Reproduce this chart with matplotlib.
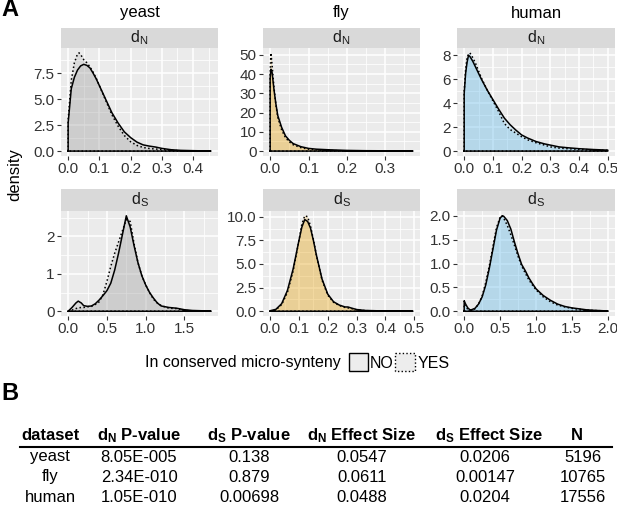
import matplotlib
matplotlib.use("Agg")
import matplotlib.pyplot as plt
from matplotlib.ticker import AutoMinorLocator, FixedLocator
from matplotlib.patches import Rectangle

plt.rcParams['font.family'] = ['Liberation Sans', 'DejaVu Sans']
plt.rcParams['mathtext.default'] = 'regular'

# ---- panel A data: density curves ----
species = ['yeast', 'fly', 'human']
fills = ['#999999', '#E69F00', '#56B4E9']

yeast_dn_x = [0, .01, .02, .03, .035, .04, .05, .06, .07, .08, .09, .10, .12, .14, .16, .18,
              .20, .22, .24, .26, .28, .30, .33, .36, .40, .457]
yeast_dn_no = [2.7, 6.0, 7.1, 7.8, 8.0, 8.2, 8.35, 8.25, 8.0, 7.5, 6.95, 6.3, 5.0, 3.7, 2.7, 1.85,
               1.3, 0.87, 0.6, 0.48, 0.39, 0.26, 0.13, 0.07, 0.04, 0.01]
yeast_dn_yes = [3.0, 6.8, 8.5, 9.35, 9.45, 9.3, 8.8, 8.5, 8.1, 7.6, 7.0, 6.3, 4.9, 3.5, 2.4, 1.5,
                0.9, 0.55, 0.35, 0.25, 0.2, 0.15, 0.08, 0.03, 0.01, 0.0]

fly_dn_x = [0, .002, .005, .01, .015, .02, .03, .04, .05, .06, .08, .10, .12, .15, .20, .25, .30, .372]
fly_dn_no = [38, 42.5, 41, 32, 24.5, 18.4, 12.3, 7.9, 5.6, 3.9, 2.3, 1.4, 1.0, 0.7, 0.35, 0.2, 0.15, 0.05]
fly_dn_yes = [40, 51, 45, 33, 24, 17.5, 11, 7, 4.8, 3.3, 1.8, 1.0, 0.6, 0.3, 0.1, 0.03, 0.01, 0.0]

human_dn_x = [0, .005, .01, .015, .02, .03, .04, .05, .06, .08, .10, .12, .14, .16, .18, .20,
              .22, .25, .28, .30, .33, .36, .40, .45, .50]
human_dn_no = [4.8, 6.5, 7.4, 8.0, 7.9, 7.5, 7.0, 6.5, 6.0, 5.1, 4.3, 3.5, 2.75, 2.2, 1.75, 1.35,
               1.1, 0.8, 0.6, 0.5, 0.35, 0.28, 0.2, 0.13, 0.08]
human_dn_yes = [5.0, 6.8, 7.8, 8.1, 8.2, 7.8, 7.3, 6.7, 6.1, 5.1, 4.2, 3.3, 2.3, 1.8, 1.5, 1.2,
                0.95, 0.7, 0.5, 0.35, 0.25, 0.2, 0.15, 0.1, 0.06]

yeast_ds_x = [0, .05, .1, .13, .17, .2, .25, .3, .35, .4, .45, .5, .55, .6, .65, .7, .75, .8, .85,
              .9, .95, 1.0, 1.05, 1.1, 1.15, 1.2, 1.3, 1.4, 1.5, 1.6, 1.84]
yeast_ds_no = [0.0, 0.1, 0.22, 0.27, 0.22, 0.15, 0.13, 0.14, 0.2, 0.3, 0.42, 0.55, 0.75, 1.1, 1.55,
               2.05, 2.55, 2.25, 1.75, 1.3, 0.95, 0.7, 0.5, 0.35, 0.22, 0.14, 0.1, 0.08, 0.04, 0.02, 0.005]
yeast_ds_yes = [0.0, 0.03, 0.07, 0.09, 0.1, 0.1, 0.12, 0.13, 0.18, 0.25, 0.45, 0.8, 1.2, 1.55, 1.85,
                2.15, 2.45, 2.4, 1.8, 1.3, 0.95, 0.7, 0.5, 0.32, 0.22, 0.15, 0.08, 0.07, 0.02, 0.01, 0.0]

fly_ds_x = [0, .02, .04, .06, .08, .10, .11, .12, .13, .14, .15, .16, .18, .20, .22, .24, .26,
            .27, .28, .30, .33, .38, .45, .495]
fly_ds_no = [0.05, 0.2, 0.8, 2.2, 4.5, 7.5, 8.9, 9.7, 9.5, 8.8, 7.5, 6.0, 3.4, 1.8, 1.0, 0.65, 0.45,
             0.45, 0.35, 0.18, 0.08, 0.04, 0.02, 0.01]
fly_ds_yes = [0.02, 0.15, 0.7, 2.0, 4.3, 7.5, 9.2, 10.1, 10.0, 9.0, 7.6, 6.0, 3.3, 1.7, 0.95, 0.6,
              0.4, 0.35, 0.3, 0.15, 0.06, 0.02, 0.0, 0.0]

human_ds_x = [0, .02, .05, .08, .1, .15, .2, .25, .3, .35, .4, .45, .5, .53, .55, .6, .65, .7, .75,
              .8, .85, .9, .95, 1.0, 1.1, 1.2, 1.3, 1.4, 1.5, 1.6, 1.7, 1.8, 2.0]
human_ds_no = [0.22, 0.15, 0.07, 0.03, 0.03, 0.06, 0.15, 0.3, 0.55, 0.9, 1.3, 1.7, 1.95, 2.0, 1.99,
               1.9, 1.72, 1.45, 1.2, 0.98, 0.85, 0.7, 0.58, 0.47, 0.33, 0.23, 0.15, 0.1, 0.07,
               0.05, 0.03, 0.02, 0.005]
human_ds_yes = [0.15, 0.1, 0.04, 0.02, 0.02, 0.05, 0.15, 0.32, 0.6, 0.95, 1.35, 1.75, 1.97, 2.0,
                1.95, 1.8, 1.6, 1.38, 1.15, 0.95, 0.8, 0.66, 0.55, 0.45, 0.3, 0.2, 0.13, 0.09,
                0.06, 0.04, 0.025, 0.015, 0.005]

xticks = [[0, .1, .2, .3, .4], [0, .1, .2, .3], [0, .1, .2, .3, .4, .5],
          [0, .5, 1, 1.5], [0, .1, .2, .3, .4, .5], [0, .5, 1, 1.5, 2]]
yticks = [[0, 2.5, 5, 7.5], [0, 10, 20, 30, 40, 50], [0, 2, 4, 6, 8],
          [0, 1, 2], [0, 2.5, 5, 7.5, 10], [0, .5, 1, 1.5, 2]]
xfmt = ['%.1f'] * 6
yfmt = ['%.1f', '%d', '%d', '%d', '%.1f', '%.1f']

curves = [(yeast_dn_x, yeast_dn_no, yeast_dn_yes), (fly_dn_x, fly_dn_no, fly_dn_yes),
          (human_dn_x, human_dn_no, human_dn_yes), (yeast_ds_x, yeast_ds_no, yeast_ds_yes),
          (fly_ds_x, fly_ds_no, fly_ds_yes), (human_ds_x, human_ds_no, human_ds_yes)]
strips = ['d$_N$', 'd$_S$']

# ---- panel B data ----
datasets = ['yeast', 'fly', 'human']
dn_pvalue = ['8.05E-005', '2.34E-010', '1.05E-010']
ds_pvalue = ['0.138', '0.879', '0.00698']
dn_effect = ['0.0547', '0.0611', '0.0488']
ds_effect = ['0.0206', '0.00147', '0.0204']
n_genes = ['5196', '10765', '17556']
headers = ['dataset', 'd$_N$ P-value', 'd$_S$ P-value', 'd$_N$ Effect Size', 'd$_S$ Effect Size', 'N']

W, H = 617, 505
fig = plt.figure(figsize=(W / 100, H / 100), dpi=100)


def rect(x0, y0, x1, y1):
    return [x0 / W, 1 - y1 / H, (x1 - x0) / W, (y1 - y0) / H]


# overlay in pixel coordinates for labels, legend and table
ov = fig.add_axes([0, 0, 1, 1])
ov.set_xlim(0, W)
ov.set_ylim(H, 0)
ov.axis('off')

cols = [(61, 218), (263, 420), (457, 615)]
rows = [((28, 48), (48, 156)), ((189, 211), (211, 316))]
txt = '#333333'

for i in range(6):
    r, c = divmod(i, 3)
    x0, x1 = cols[c]
    (s0, s1), (p0, p1) = rows[r]
    ax = fig.add_axes(rect(x0, p0, x1, p1))
    ax.set_facecolor('#EBEBEB')
    xs, no, yes = curves[i]
    for ys, ls in [(no, '-'), (yes, (0, (1, 1.6)))]:
        px = [xs[0]] + list(xs) + [xs[-1], xs[0]]
        py = [0] + list(ys) + [0, 0]
        ax.fill(px, py, facecolor=fills[c], alpha=0.2, lw=0, zorder=2)
        ax.plot(px, py, color='black', lw=1.1, ls=ls, zorder=3)
    ax.xaxis.set_major_locator(FixedLocator(xticks[i]))
    ax.yaxis.set_major_locator(FixedLocator(yticks[i]))
    ax.set_xticklabels([xfmt[i] % v for v in xticks[i]])
    ax.set_yticklabels([yfmt[i] % v for v in yticks[i]])
    ax.xaxis.set_minor_locator(AutoMinorLocator(2))
    ax.yaxis.set_minor_locator(AutoMinorLocator(2))
    ax.grid(which='major', color='white', lw=1.1, zorder=0)
    ax.grid(which='minor', color='white', lw=0.55, zorder=0)
    ax.set_axisbelow(True)
    for sp in ax.spines.values():
        sp.set_visible(False)
    ax.tick_params(which='major', length=3, width=0.8, color=txt, labelcolor=txt,
                   labelsize=11, pad=1.5)
    ax.tick_params(which='minor', length=0)
    # facet strip
    sa = fig.add_axes(rect(x0, s0, x1, s1))
    sa.set_facecolor('#D9D9D9')
    sa.set_xticks([])
    sa.set_yticks([])
    for sp in sa.spines.values():
        sp.set_visible(False)
    sa.text(0.5, 0.5, strips[r], ha='center', va='center', fontsize=11.5,
            color='#1A1A1A', transform=sa.transAxes)

for c, name in enumerate(species):
    ov.text(sum(cols[c]) / 2, 13, name, ha='center', va='center', fontsize=12)

ov.text(15, 175, 'density', rotation=90, ha='center', va='center', fontsize=12)
ov.text(1, 10, 'A', fontsize=17, fontweight='bold', ha='left', va='center')
ov.text(1, 393, 'B', fontsize=17, fontweight='bold', ha='left', va='center')

# legend
ov.text(145, 362, 'In conserved micro-synteny', fontsize=11.5, ha='left', va='center')
ov.add_patch(Rectangle((349, 353), 19, 18, facecolor='#EDEDED', edgecolor='black', lw=1))
ov.text(370, 363, 'NO', fontsize=11.5, ha='left', va='center')
ov.add_patch(Rectangle((395, 353), 20, 18, facecolor='#EDEDED', edgecolor='black', lw=1,
                       ls=(0, (1, 1.6))))
ov.text(418, 363, 'YES', fontsize=11.5, ha='left', va='center')

# table
head_x = [50, 139, 249, 362, 489, 577]
val_x = [50, 139, 249, 362, 485, 583]
ov.plot([20, 612], [447, 447], color='black', lw=1.5)
for hx, h in zip(head_x, headers):
    ov.text(hx, 436, h, fontsize=12, fontweight='bold', ha='center', va='center')
table_cols = [datasets, dn_pvalue, ds_pvalue, dn_effect, ds_effect, n_genes]
row_y = [457, 477, 497]
for vx, col in zip(val_x, table_cols):
    for ry, v in zip(row_y, col):
        ov.text(vx, ry, v, fontsize=12, ha='center', va='center')

fig.savefig('out.png', dpi=100)
